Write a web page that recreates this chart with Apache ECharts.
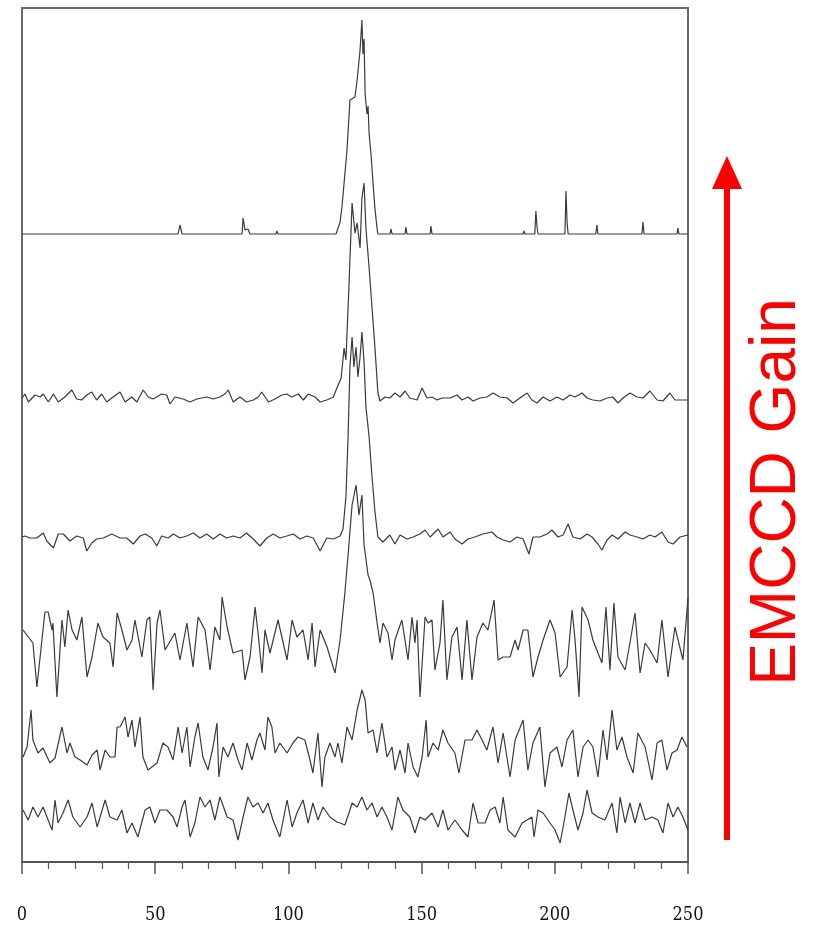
<!DOCTYPE html>
<html>
<head>
<meta charset="utf-8">
<script src="https://cdn.jsdelivr.net/npm/echarts@6/dist/echarts.min.js"></script>
<style>
  html, body { margin: 0; padding: 0; background: #fff; }
  #chart { width: 817px; height: 928px; }
</style>
</head>
<body>
<div id="chart"></div>
<script>
// Pixel-column profiles across the spot, recorded at six EMCCD gain settings.
// Each profile: [pixel, signal above its own baseline]; stacked with traceOffsets.

const xTicks = [0, 50, 100, 150, 200, 250];

// highest gain
const trace1 = [[0,0],[53.9,0],[54.4,2],[54.8,0],[58.6,0],[59.3,9],[60.1,0],[82.6,0],[83.0,16],[83.7,4],[84.8,5],[85.6,0],[95.3,0],[95.7,3],[96.1,0],[117.9,0],[119.4,12],[120.1,27],[122.0,84],[123.1,134],[125.0,137],[125.8,154],[126.9,184],[127.6,214],[128.0,180],[128.4,195],[128.8,140],[129.5,120],[129.9,128],[130.3,100],[131.0,80],[131.8,50],[132.5,25],[133.3,5],[133.6,0],[138.1,0],[138.5,5],[138.9,0],[143.8,0],[144.1,7],[144.5,0],[153.2,0],[153.5,8],[153.9,0],[188.1,0],[188.4,3],[188.8,0],[192.5,0],[192.9,23],[193.3,8],[193.7,0],[203.8,0],[204.2,43],[204.6,12],[205.0,0],[215.4,0],[215.8,9],[216.2,0],[232.7,0],[233.1,12],[233.5,0],[245.9,0],[246.2,6],[246.6,0],[250,0]];

const trace2 = [[0,0],[1.1,4],[2.4,-4],[4.9,3],[6.8,1],[8.0,4],[9.9,-4],[11.8,4],[13.6,-4],[16.1,1],[18.7,8],[20.5,-1],[22.4,-2],[24.3,3],[26.2,6],[28.0,-2],[29.9,4],[31.8,-4],[33.7,0],[36.8,6],[38.7,-4],[41.2,1],[43.1,-4],[45.5,8],[47.4,1],[49.3,-1],[52.4,4],[54.3,3],[55.6,-6],[57.4,1],[60.5,-1],[63.1,-4],[65.6,-1],[69.3,1],[71.8,-1],[74.3,1],[76.2,4],[77.4,8],[79.3,-4],[81.8,1],[84.3,-4],[86.8,-2],[88.7,1],[90.0,6],[92.5,-4],[95.0,-1],[97.5,3],[99.4,4],[101.2,1],[103.7,4],[105.6,-2],[107.5,4],[110.0,1],[111.9,-4],[114.4,-2],[116.9,1],
  [118.2,10],[119.8,20],[120.9,50],[121.6,38],[122.7,110],[123.9,195],[125.0,165],[125.8,175],[126.9,150],[127.6,200],[128.4,215],[129.1,170],[130.3,130],[131.4,90],[132.5,50],[133.6,5],
  [134.4,-3],[136.3,1],[138.1,0],[140.0,5],[141.9,1],[143.8,7],[145.6,0],[148.3,-2],[150.2,10],[152.0,0],[153.9,1],[155.8,-2],[157.7,0],[160.7,0],[163.3,3],[165.2,-2],[167.4,1],[169.3,-3],[171.9,0],[174.5,1],[176.8,5],[179.4,1],[182.1,0],[184.3,-5],[186.9,0],[189.6,5],[191.4,-2],[193.3,-5],[195.6,1],[198.2,-3],[200.8,1],[203.1,-2],[205.7,3],[207.6,1],[210.2,5],[212.1,0],[214.3,-2],[217.0,-3],[219.6,0],[221.8,1],[223.7,-5],[225.6,0],[228.2,5],[230.9,1],[233.1,0],[235.7,7],[238.4,-2],[240.6,-3],[243.2,5],[245.1,-2],[247.7,-2],[250,-2]];

const trace3 = [[0,0],[1.1,1],[3.0,-1],[5.5,-1],[8.0,4],[9.3,-4],[11.8,-11],[13.6,3],[15.5,3],[18.0,-4],[20.5,1],[23.0,-1],[24.3,-14],[26.2,-6],[28.0,-2],[30.5,-1],[33.7,3],[36.8,-1],[39.3,-1],[41.8,-7],[44.3,1],[46.2,3],[48.7,-1],[50.6,-9],[52.4,1],[54.9,-1],[56.8,3],[59.3,-1],[61.8,1],[64.3,4],[66.8,-1],[69.3,3],[71.8,-2],[74.3,3],[76.8,-1],[79.3,1],[81.8,-1],[84.3,4],[86.8,-2],[89.3,-9],[91.9,-1],[94.3,3],[96.8,-1],[99.4,1],[101.8,3],[104.4,-2],[106.9,1],[109.3,-1],[111.9,-14],[114.4,-1],[116.9,-2],[119.4,1],
  [120.5,8],[121.6,40],[122.4,100],[123.1,170],[123.9,200],[124.6,170],[125.4,190],[126.1,160],[126.9,180],[127.6,205],[128.4,175],[129.1,130],[130.3,100],[131.4,60],[132.5,25],[133.6,0],
  [135.5,-5],[138.1,2],[140.0,-7],[141.9,2],[144.5,-2],[146.8,0],[149.4,3],[151.3,7],[153.2,0],[156.2,8],[158.0,0],[160.7,5],[162.5,-2],[165.2,-7],[167.4,-2],[170.0,0],[173.0,3],[176.4,5],[178.3,0],[180.6,-3],[183.2,-5],[185.8,0],[188.1,-2],[190.3,-17],[191.8,0],[194.4,0],[197.1,3],[198.9,7],[201.2,0],[203.1,2],[205.0,13],[206.8,0],[209.5,-2],[212.1,3],[214.0,0],[216.2,-7],[217.7,-13],[219.6,-3],[221.5,2],[223.7,-2],[226.4,5],[228.2,2],[230.9,0],[233.1,-2],[235.7,2],[237.6,0],[240.2,5],[242.5,-5],[244.4,-7],[247.0,0],[250,2]];

const trace4 = [[0.4,5],[4.1,-8],[5.6,-52],[6.8,-22],[8.6,23],[9.8,23],[11.3,5],[11.6,12],[13.1,-62],[15.0,15],[16.1,-12],[17.3,25],[18.8,5],[20.6,-5],[22.5,18],[24.4,-42],[26.3,-22],[28.5,12],[30.4,-2],[33.0,-8],[34.2,-32],[35.7,22],[37.5,5],[39.4,-15],[41.3,-5],[42.4,15],[45.0,-22],[46.9,15],[48.0,18],[49.2,-55],[50.7,12],[51.8,25],[53.7,-15],[57.4,2],[59.3,-25],[61.9,12],[64.2,-32],[66.1,18],[68.7,5],[70.6,-35],[72.4,8],[74.3,-5],[75.1,38],[77.0,8],[79.2,-18],[82.6,-15],[83.7,-45],[85.6,-22],[87.5,28],[88.6,2],[90.1,-38],[91.2,5],[93.1,-18],[96.1,15],[99.5,-25],[101.4,15],[103.2,-2],[105.5,5],[107.4,-25],[108.9,12],[110.0,-32],[111.9,5],[114.5,-12],[117.5,-38],[119.4,-5],[121.2,42],
  [122.4,80],[123.9,130],[125.4,150],[126.5,120],[127.6,140],[128.4,90],[129.9,60],[130.6,55],[131.8,42],[133.3,12],
  [134.4,-8],[135.5,12],[137.4,2],[138.9,-25],[140.0,-5],[142.6,15],[144.9,-25],[146.4,18],[147.5,-8],[148.3,15],[149.4,-62],[151.3,18],[152.4,12],[153.9,15],[155.0,-35],[156.9,-8],[158.0,35],[159.5,-45],[161.4,-2],[163.3,8],[165.2,-45],[167.0,15],[168.9,-45],[170.8,-2],[173.0,12],[174.9,5],[177.2,35],[178.7,-25],[180.6,-22],[183.2,-22],[185.1,-5],[186.2,-15],[188.1,5],[189.9,5],[191.8,-42],[193.7,-22],[195.6,-5],[198.2,15],[200.1,2],[202.0,-42],[204.6,-32],[206.5,25],[207.6,-5],[209.1,-62],[210.2,28],[212.5,15],[214.3,-5],[216.2,-18],[217.7,-28],[219.2,28],[220.7,-35],[222.2,32],[223.7,-22],[226.4,-35],[228.2,-8],[230.1,22],[232.0,-38],[233.9,-8],[235.7,-15],[238.4,-28],[240.2,15],[242.5,-42],[245.1,8],[248.1,-25],[250,37]];

const trace5 = [[0.4,-12],[1.9,-2],[3.4,35],[4.1,5],[6.0,-8],[7.9,-3],[10.5,-18],[12.4,-13],[15.0,18],[16.9,-8],[18.0,2],[19.9,-12],[21.8,-15],[24.4,-20],[26.3,-10],[28.2,-5],[29.3,-25],[31.2,-5],[33.0,-12],[34.9,-12],[35.7,18],[36.8,18],[38.7,28],[39.8,8],[41.3,25],[42.4,-2],[44.3,28],[45.4,-12],[47.3,-25],[50.7,-18],[52.9,2],[54.8,-2],[56.7,-15],[58.6,18],[60.1,-8],[61.9,18],[63.1,-22],[64.9,8],[66.1,22],[67.9,-12],[69.8,-25],[71.7,-2],[73.2,22],[73.9,-32],[75.5,-2],[77.3,-12],[79.2,2],[81.1,-15],[82.6,-25],[84.5,2],[86.3,-15],[88.2,5],[89.3,12],[91.2,-5],[92.3,28],[93.8,18],[95.0,-8],[96.8,2],[99.5,-8],[101.7,2],[103.6,8],[106.2,5],[108.1,-15],[109.2,-28],[111.1,12],[112.6,-42],[113.7,-12],[115.6,2],[117.5,-12],[118.6,2],[120.1,-18],[122.0,18],[123.9,5],[125.8,35],[127.6,55],[128.8,45],[129.9,12],[131.8,15],[133.3,-8],[135.1,22],[137.0,-12],[138.9,-2],[140.0,-25],[141.9,-5],[143.8,-28],[144.9,2],[146.8,-22],[148.6,-32],[150.2,-12],[151.7,25],[152.4,-12],[154.3,2],[156.2,-5],[158.0,15],[159.9,2],[162.5,-8],[164.0,-28],[166.3,5],[168.9,5],[170.8,15],[172.7,5],[174.5,-5],[176.8,18],[178.7,-18],[180.6,12],[183.2,-32],[185.1,5],[188.1,25],[189.9,-25],[191.8,2],[194.4,18],[196.3,-42],[198.2,-8],[200.8,-2],[202.7,-22],[204.6,5],[206.8,15],[208.7,-32],[210.6,-2],[212.5,5],[214.3,-2],[216.2,-32],[218.1,15],[219.6,-15],[221.5,35],[223.3,-5],[225.2,8],[227.1,-12],[229.4,-28],[231.2,12],[233.9,-2],[236.5,-35],[238.4,2],[240.2,5],[242.1,-25],[244.0,-8],[245.9,-5],[247.7,8],[249.6,-2]];

// lowest gain
const trace6 = [[0.4,5],[2.3,-5],[4.1,8],[6.0,-2],[7.9,8],[9.8,-5],[11.3,-15],[12.4,15],[13.5,-8],[15.4,2],[17.3,15],[19.1,-2],[21.8,-12],[24.4,-2],[26.3,12],[28.2,-12],[31.2,15],[33.0,-2],[35.7,-5],[37.5,5],[39.4,-18],[41.3,-8],[43.5,-22],[46.2,5],[48.0,8],[49.9,-8],[51.8,5],[54.4,5],[56.7,-2],[58.2,-12],[60.1,8],[61.2,15],[63.1,-22],[64.9,-8],[66.8,18],[68.7,8],[70.6,15],[72.4,-5],[74.3,18],[77.0,-2],[79.2,-5],[81.1,-25],[83.0,-2],[84.8,18],[86.7,8],[88.6,12],[90.5,2],[92.3,12],[94.2,-5],[96.8,-22],[99.5,15],[101.4,-12],[103.2,2],[105.5,15],[107.4,-8],[109.2,12],[111.1,-5],[113.0,8],[115.6,-2],[118.2,-7],[119.4,-8],[121.2,-10],[123.1,5],[123.9,12],[125.8,8],[127.6,18],[129.5,5],[131.4,12],[133.3,-2],[135.1,8],[137.0,-2],[138.9,-15],[141.1,18],[143.0,5],[145.6,-2],[147.5,-18],[149.4,-2],[151.3,-5],[153.9,2],[156.2,-12],[158.0,5],[159.9,-15],[162.5,-5],[165.2,-15],[167.4,-22],[169.3,12],[171.2,-8],[173.8,-8],[175.7,5],[177.6,8],[179.4,-8],[180.6,18],[182.4,-15],[185.1,-22],[187.7,-8],[189.6,-5],[191.4,-2],[192.2,-22],[193.7,5],[195.6,2],[198.2,-8],[200.1,-15],[202.0,-28],[203.8,-2],[205.3,22],[206.8,5],[208.7,-15],[210.6,2],[212.1,25],[214.0,2],[216.2,-2],[218.8,-5],[221.5,12],[223.3,-18],[224.5,18],[226.4,-8],[228.2,12],[230.1,-8],[232.0,12],[233.9,-5],[236.5,-2],[238.7,-5],[240.6,-18],[242.5,12],[244.4,-2],[246.2,8],[248.1,-2],[250,-15]];

const traces = [trace1, trace2, trace3, trace4, trace5, trace6];
const traceOffsets = [628, 464, 325, 227, 117, 47];

const chart = echarts.init(document.getElementById('chart'), null, { renderer: 'canvas' });

const series = traces.map((tr, i) => ({
  type: 'line',
  data: tr.map(([x, v]) => [x, v + traceOffsets[i]]),
  showSymbol: false,
  symbol: 'none',
  lineStyle: { color: '#3a3a3a', width: 1.2 },
  z: 3
}));

chart.setOption({
  animation: false,
  backgroundColor: '#ffffff',
  grid: {
    left: 22, right: 129, top: 8, bottom: 66,
    show: true, borderColor: '#6a6a6a', borderWidth: 2, backgroundColor: 'transparent'
  },
  xAxis: {
    type: 'value', min: 0, max: 250, interval: 50,
    axisLine: { show: true, onZero: false, lineStyle: { color: '#555', width: 2 } },
    axisTick: { show: true, length: 12, lineStyle: { color: '#555', width: 1.5 } },
    minorTick: { show: true, splitNumber: 5, length: 7, lineStyle: { color: '#555', width: 1.2 } },
    splitLine: { show: false },
    axisLabel: {
      margin: 44,
      color: '#111',
      fontFamily: '"DejaVu Serif Condensed", "Liberation Serif", serif',
      fontSize: 18,
      formatter: v => (xTicks.indexOf(v) >= 0 ? String(v) : '')
    }
  },
  yAxis: {
    type: 'value', min: 0, max: 854, show: false, splitLine: { show: false }
  },
  series: series,
  graphic: [
    { type: 'line', shape: { x1: 727, y1: 840, x2: 727, y2: 182 }, style: { stroke: '#ff0000', lineWidth: 6 } },
    { type: 'polygon', shape: { points: [[727, 156], [712, 189], [742, 189]] }, style: { fill: '#ff0000' } },
    {
      type: 'text', x: 777, y: 492, rotation: Math.PI / 2,
      style: {
        text: 'EMCCD Gain', fill: '#ff0000',
        font: '64px "Liberation Sans", Arial, sans-serif',
        align: 'center', verticalAlign: 'middle'
      }
    }
  ]
});
</script>
</body>
</html>
